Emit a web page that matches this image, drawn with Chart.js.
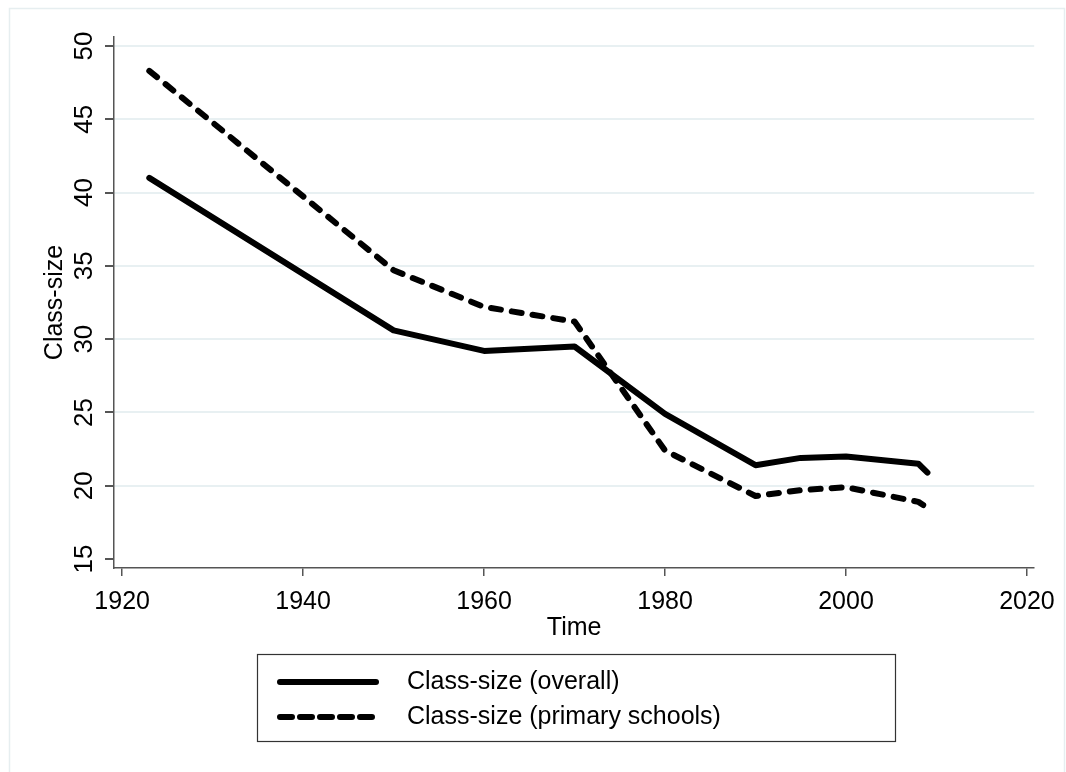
<!DOCTYPE html>
<html>
<head>
<meta charset="utf-8">
<script src="https://cdn.jsdelivr.net/npm/chart.js@4"></script>
<style>
  body { margin: 0; background: #fff; }
  canvas { display: block; }
</style>
</head>
<body>
<canvas id="classChart" width="1066" height="772"></canvas>
<script>
const years = [1923, 1950, 1960, 1970, 1980, 1990, 1995, 2000, 2008, 2009];
const overall = [41.0, 30.6, 29.2, 29.5, 24.9, 21.4, 21.9, 22.0, 21.5, 20.9];
const primary = [48.3, 34.7, 32.2, 31.2, 22.4, 19.3, 19.7, 19.9, 18.9, 18.5];
const xTicks = [1920, 1940, 1960, 1980, 2000, 2020];
const yTicks = [15, 20, 25, 30, 35, 40, 45, 50];

const FONT = '"Liberation Sans", Arial, Helvetica, sans-serif';

// Stata-style boxed legend with two rows under the plot
const boxLegend = {
    id: 'boxLegend',
    beforeDraw(chart) {
        const c = chart.ctx;
        c.save();
        c.strokeStyle = '#e6eef0';
        c.lineWidth = 1.5;
        c.strokeRect(9.5, 8.5, 1055, 800);
        c.restore();
    },
    afterDraw(chart) {
        const c = chart.ctx;
        const x0 = 257, y0 = 654, w = 638, h = 87;
        c.save();
        c.strokeStyle = '#333';
        c.lineWidth = 1.2;
        c.strokeRect(x0 + 0.5, y0 + 0.5, w, h);
        c.font = '25px ' + FONT;
        c.fillStyle = '#000';
        c.textBaseline = 'middle';
        chart.data.datasets.forEach((ds, i) => {
            const y = y0 + 28 + i * 35;
            c.beginPath();
            c.lineWidth = ds.borderWidth;
            c.lineCap = 'round';
            c.setLineDash(ds.borderDash ? [12, 8] : []);
            c.strokeStyle = ds.borderColor;
            c.moveTo(x0 + 23, y);
            c.lineTo(x0 + 119, y);
            c.stroke();
            c.setLineDash([]);
            c.fillText(ds.label, x0 + 150, y);
        });
        c.restore();
    }
};

const ctx = document.getElementById('classChart');
const classChart = new Chart(ctx, {
    type: 'line',
    data: {
        datasets: [{
            label: 'Class-size (overall)',
            data: years.map((y, i) => ({x: y, y: overall[i]})),
            borderColor: '#000',
            borderWidth: 6,
            borderCapStyle: 'round',
            borderJoinStyle: 'round',
            pointRadius: 0,
            fill: false,
            tension: 0
        }, {
            label: 'Class-size (primary schools)',
            data: years.map((y, i) => ({x: y, y: primary[i]})),
            borderColor: '#000',
            borderWidth: 6,
            borderDash: [10, 11],
            borderCapStyle: 'round',
            borderJoinStyle: 'round',
            pointRadius: 0,
            fill: false,
            tension: 0
        }]
    },
    options: {
        responsive: false,
        animation: false,
        layout: { padding: { top: 37, right: 29, bottom: 129, left: 0 } },
        plugins: {
            legend: { display: false },
            tooltip: { enabled: false }
        },
        scales: {
            x: {
                type: 'linear',
                min: 1919.1,
                max: 2020.8,
                afterBuildTicks: s => { s.ticks = xTicks.map(v => ({value: v})); },
                afterFit: s => { s.height = 75; },
                border: { display: true, color: '#555', width: 1.5 },
                grid: { display: true, drawOnChartArea: false, drawTicks: true, tickLength: 8, color: '#555', lineWidth: 1.5 },
                ticks: { color: '#000', font: { family: FONT, size: 25 }, padding: 11, maxRotation: 0, callback: v => String(v) },
                title: { display: true, text: 'Time', color: '#000', font: { family: FONT, size: 25 }, padding: { top: 0, bottom: 0 } }
            },
            y: {
                min: 14.39,
                max: 50.61,
                afterBuildTicks: s => { s.ticks = yTicks.map(v => ({value: v})); },
                afterFit: s => { s.width = 114; },
                border: { display: true, color: '#555', width: 1.5 },
                grid: {
                    drawTicks: true, tickLength: 9, tickColor: '#555',
                    color: ctx => ctx.tick && ctx.tick.value === 15 ? 'rgba(0,0,0,0)' : '#e8f0f2',
                    lineWidth: 2
                },
                ticks: { color: '#000', font: { family: FONT, size: 26 }, padding: 6, minRotation: 90, maxRotation: 90, crossAlign: 'center' },
                title: { display: true, text: 'Class-size', color: '#000', font: { family: FONT, size: 25 }, padding: { top: 40, bottom: 0 } }
            }
        }
    },
    plugins: [boxLegend]
});
</script>
</body>
</html>
